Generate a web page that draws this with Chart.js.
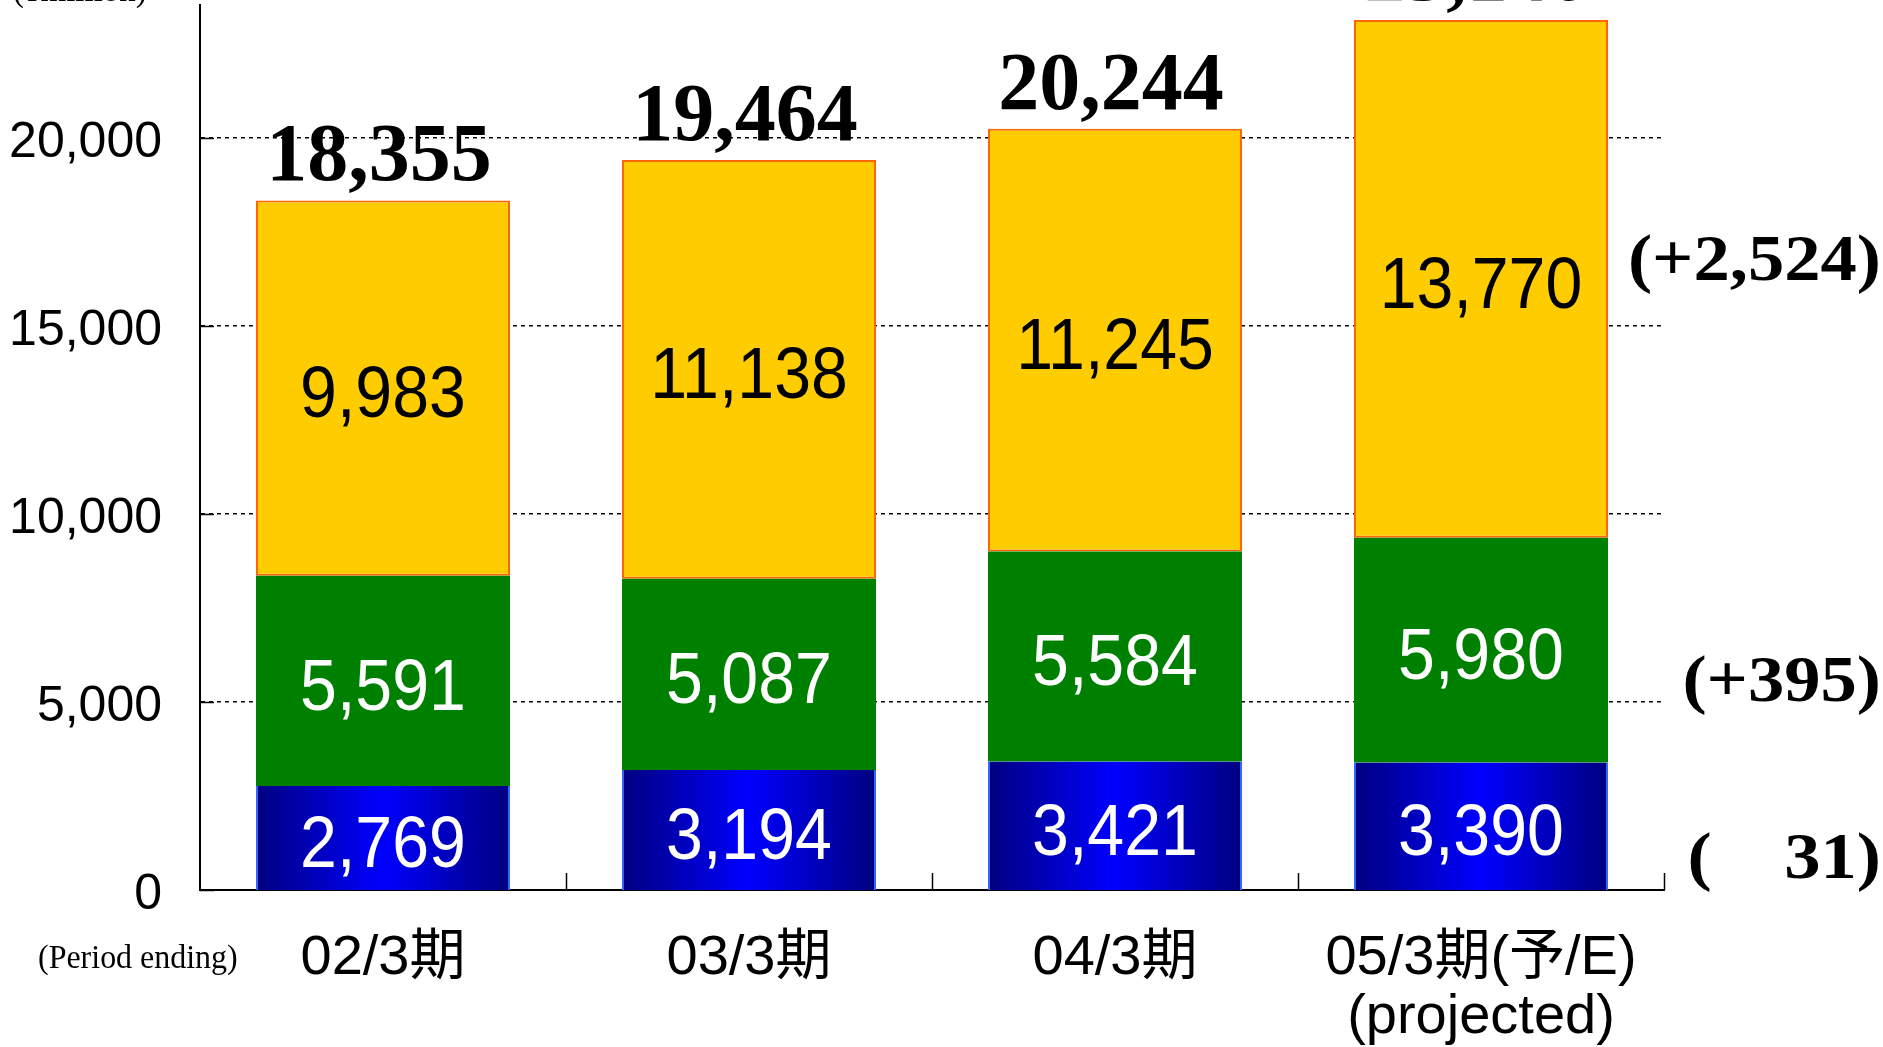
<!DOCTYPE html>
<html>
<head>
<meta charset="utf-8">
<script src="https://cdn.jsdelivr.net/npm/chart.js@4/dist/chart.umd.min.js"></script>
<style>
  html, body { margin: 0; padding: 0; background: #fff; }
  #wrap { width: 1883px; height: 1047px; }
</style>
</head>
<body>
<div id="wrap"><canvas id="c" width="1883" height="1047"></canvas></div>
<script>
// ---- data ----
const categories = [['02/3期'], ['03/3期'], ['04/3期'], ['05/3期(予/E)', '(projected)']];
const blueValues = [2769, 3194, 3421, 3390];
const greenValues = [5591, 5087, 5584, 5980];
const yellowValues = [9983, 11138, 11245, 13770];
const totalLabels = ['18,355', '19,464', '20,244', '23,140'];
const changeLabels = ['(+2,524)', '(+395)', '(    31)'];
const changeAnchors = [16670, 5475, 765];
const yTicks = [0, 5000, 10000, 15000, 20000];
const unitLabel = '(¥million)';
const periodLabel = '(Period ending)';

const SANS = '"Liberation Sans", Arial, sans-serif';
const SERIF = '"Liberation Serif", "Times New Roman", serif';
const BAR_PCT = 0.694;

function fmt(v) { return v.toLocaleString('en-US'); }

function blueGradient(ctx) {
  const chart = ctx.chart;
  const xs = chart.scales && chart.scales.x;
  if (!xs || !isFinite(xs.width) || xs.width <= 0) return '#0000FF';
  const cx = xs.getPixelForValue(ctx.dataIndex);
  const half = (xs.width / categories.length) * BAR_PCT / 2;
  if (!isFinite(cx) || !isFinite(half)) return '#0000FF';
  const g = chart.ctx.createLinearGradient(cx - half, 0, cx + half, 0);
  g.addColorStop(0, '#000080');
  g.addColorStop(0.5, '#0000FF');
  g.addColorStop(1, '#000080');
  return g;
}

function drawScaledText(ctx, text, x, y, sx, align) {
  ctx.save();
  ctx.translate(x, y);
  ctx.scale(sx, 1);
  ctx.textAlign = align || 'center';
  ctx.fillText(text, 0, 0);
  ctx.restore();
}

const decor = {
  id: 'decor',
  afterDatasetsDraw(chart) {
    const ctx = chart.ctx;
    const colors = ['#FFFFFF', '#FFFFFF', '#000000'];
    chart.data.datasets.forEach((ds, di) => {
      const meta = chart.getDatasetMeta(di);
      meta.data.forEach((el, i) => {
        const cy = (el.y + el.base) / 2;
        ctx.save();
        ctx.fillStyle = colors[di];
        ctx.font = '72px ' + SANS;
        ctx.textBaseline = 'middle';
        drawScaledText(ctx, fmt(ds.data[i]), el.x, cy + 9, 0.92, 'center');
        ctx.restore();
      });
    });
    const topMeta = chart.getDatasetMeta(2);
    topMeta.data.forEach((el, i) => {
      ctx.save();
      ctx.fillStyle = '#000';
      ctx.font = 'bold 82px ' + SERIF;
      ctx.textBaseline = 'alphabetic';
      ctx.textAlign = 'center';
      ctx.fillText(totalLabels[i], el.x - 4, el.y - 20);
      ctx.restore();
    });
  },
  afterDraw(chart) {
    const ctx = chart.ctx;
    const area = chart.chartArea;
    const ys = chart.scales.y;
    const xs = chart.scales.x;
    ctx.save();
    ctx.strokeStyle = '#000';
    ctx.lineWidth = 1.5;
    yTicks.forEach(v => {
      const y = Math.round(ys.getPixelForValue(v)) + 0.5;
      ctx.beginPath();
      ctx.moveTo(area.left, y);
      ctx.lineTo(area.left + 14, y);
      ctx.stroke();
    });
    const cw = xs.width / categories.length;
    for (let i = 1; i <= categories.length; i++) {
      const x = Math.round(area.left + cw * i) + 0.5;
      ctx.beginPath();
      ctx.moveTo(x, area.bottom);
      ctx.lineTo(x, area.bottom - 17);
      ctx.stroke();
    }
    ctx.fillStyle = '#000';
    ctx.font = 'bold 66px ' + SERIF;
    ctx.textBaseline = 'middle';
    changeLabels.forEach((t, i) => {
      const y = ys.getPixelForValue(changeAnchors[i]);
      drawScaledText(ctx, t, 1881, y, 1.1, 'right');
    });
    ctx.font = '33px ' + SERIF;
    ctx.textBaseline = 'alphabetic';
    ctx.textAlign = 'left';
    ctx.fillText(unitLabel, 13, 1);
    ctx.font = '34px ' + SERIF;
    ctx.textBaseline = 'middle';
    drawScaledText(ctx, periodLabel, 38, 959, 0.94, 'left');
    ctx.restore();
  }
};

new Chart(document.getElementById('c'), {
  type: 'bar',
  data: {
    labels: categories,
    datasets: [
      {
        label: 'blue',
        data: blueValues,
        backgroundColor: blueGradient,
        borderColor: '#3366FF',
        borderWidth: { left: 2, right: 2, top: 0, bottom: 0 },
        borderSkipped: false
      },
      {
        label: 'green',
        data: greenValues,
        backgroundColor: '#008000',
        borderWidth: 0
      },
      {
        label: 'yellow',
        data: yellowValues,
        backgroundColor: '#FFCC00',
        borderColor: '#FF6600',
        borderWidth: 2,
        borderSkipped: false
      }
    ]
  },
  options: {
    responsive: false,
    animation: false,
    devicePixelRatio: 1,
    layout: { autoPadding: false, padding: { top: 5, right: 219, left: 0, bottom: 0 } },
    plugins: { legend: { display: false }, tooltip: { enabled: false } },
    datasets: { bar: { barPercentage: BAR_PCT, categoryPercentage: 1.0 } },
    scales: {
      x: {
        stacked: true,
        grid: { display: false, drawTicks: false },
        border: { display: true, color: '#000', width: 2 },
        ticks: {
          color: '#000',
          font: { family: '"Liberation Sans", "Noto Sans CJK JP", sans-serif', size: 56, weight: 'normal', lineHeight: 1.06 },
          padding: 39,
          maxRotation: 0,
          autoSkip: false
        },
        afterFit(scale) { scale.height = 157; scale.paddingLeft = 0; scale.paddingRight = 0; }
      },
      y: {
        stacked: true,
        min: 0,
        max: 23540,
        grid: {
          color: '#000',
          lineWidth: (c) => (c.tick && c.tick.value === 0 ? 0 : 1.5),
          drawTicks: false
        },
        border: { display: true, color: '#000', width: 2, dash: [4, 4] },
        ticks: {
          stepSize: 5000,
          color: '#000',
          padding: 38,
          labelOffset: 5,
          font: { family: SANS, size: 50 },
          callback: (v) => fmt(v)
        },
        afterBuildTicks(scale) {
          scale.ticks = yTicks.map(v => ({ value: v }));
        },
        afterFit(scale) { scale.width = 200; scale.paddingTop = 0; scale.paddingBottom = 0; }
      }
    }
  },
  plugins: [decor]
});
</script>
</body>
</html>
